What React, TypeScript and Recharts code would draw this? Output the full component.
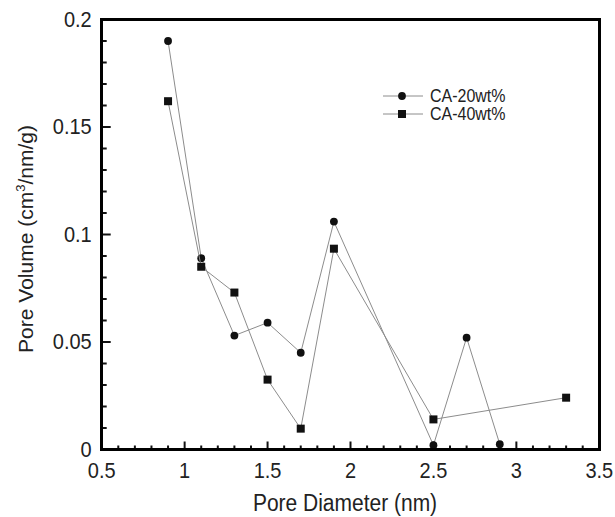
import React from 'react';
import { ScatterChart, Scatter, XAxis, YAxis } from 'recharts';

// pore size distribution
const DIAMETER_20 = [0.9, 1.1, 1.3, 1.5, 1.7, 1.9, 2.5, 2.7, 2.9];
const VOLUME_20 = [0.19, 0.089, 0.053, 0.059, 0.045, 0.106, 0.002, 0.052, 0.0025];

const DIAMETER_40 = [0.9, 1.1, 1.3, 1.5, 1.7, 1.9, 2.5, 3.3];
const VOLUME_40 = [0.162, 0.085, 0.073, 0.0325, 0.0097, 0.0934, 0.014, 0.0241];

const X_MAJOR = [0.5, 1, 1.5, 2, 2.5, 3, 3.5];
const Y_MAJOR = [0, 0.05, 0.1, 0.15, 0.2];

const X_TICKS = Array.from({ length: 31 }, (_, i) => Math.round((0.5 + i * 0.1) * 10) / 10);
const Y_TICKS = Array.from({ length: 21 }, (_, i) => i / 100);

const data20 = DIAMETER_20.map((x, i) => ({ x, y: VOLUME_20[i] }));
const data40 = DIAMETER_40.map((x, i) => ({ x, y: VOLUME_40[i] }));

const FONT = '"Liberation Sans", Arial, Helvetica, sans-serif';
const LINE_GRAY = '#8c8c8c';
const INK = '#111';

// layout
const W = 615;
const H = 517;
const MARGIN = { top: 19.5, right: 15.7, bottom: 0, left: 1.7 };
const Y_AXIS_W = 100;
const X_AXIS_H = 67.5;
const L = MARGIN.left + Y_AXIS_W;
const T = MARGIN.top;
const R = W - MARGIN.right;
const B = H - MARGIN.bottom - X_AXIS_H;
const FW = 3; // frame thickness

const XTick = (props: any) => {
  const { x, y, payload } = props;
  const v = payload.value;
  const major = X_MAJOR.includes(v);
  return (
    <g>
      <line x1={x} x2={x} y1={y} y2={y - (major ? 8 : 4)} stroke={INK} strokeWidth={2} />
      {major && (
        <text
          transform={`translate(${x},${y + 28.5}) scale(1,1.08)`}
          textAnchor="middle"
          fontSize={20}
          fontFamily={FONT}
          fill="#222"
        >
          {String(v)}
        </text>
      )}
    </g>
  );
};

const YTick = (props: any) => {
  const { x, y, payload } = props;
  const v = payload.value;
  const major = Y_MAJOR.includes(v);
  return (
    <g>
      <line x1={x} x2={x + (major ? 9 : 5)} y1={y} y2={y} stroke={INK} strokeWidth={2} />
      {major && (
        <text
          transform={`translate(${x - 10},${y + 7}) scale(1,1.08)`}
          textAnchor="end"
          fontSize={20}
          fontFamily={FONT}
          fill="#222"
        >
          {String(v)}
        </text>
      )}
    </g>
  );
};

const Dot = (props: any) => <circle cx={props.cx} cy={props.cy} r={3.9} fill={INK} />;
const Box = (props: any) => (
  <rect x={props.cx - 4} y={props.cy - 4} width={8} height={8} fill={INK} />
);

const App: React.FC = () => {
  return (
    <div style={{ position: 'absolute', left: 0, top: 0, width: W, height: H, background: '#fff' }}>
      <ScatterChart width={W} height={H} margin={MARGIN}>
        <XAxis
          type="number"
          dataKey="x"
          domain={[0.5, 3.5]}
          ticks={X_TICKS}
          interval={0}
          tickSize={0}
          tickMargin={0}
          tickLine={false}
          axisLine={false}
          tick={<XTick />}
          height={X_AXIS_H}
          allowDataOverflow
        />
        <YAxis
          type="number"
          dataKey="y"
          domain={[0, 0.2]}
          ticks={Y_TICKS}
          interval={0}
          tickSize={0}
          tickMargin={0}
          tickLine={false}
          axisLine={false}
          tick={<YTick />}
          width={Y_AXIS_W}
          allowDataOverflow
        />
        <Scatter
          name="CA-20wt%"
          data={data20}
          line={{ stroke: LINE_GRAY, strokeWidth: 1 }}
          lineType="joint"
          shape={Dot}
          isAnimationActive={false}
        />
        <Scatter
          name="CA-40wt%"
          data={data40}
          line={{ stroke: LINE_GRAY, strokeWidth: 1 }}
          lineType="joint"
          shape={Box}
          isAnimationActive={false}
        />

        {/* legend */}
        <g fontFamily={FONT} fontSize={16} fill="#222">
          <line x1={383} x2={423} y1={96} y2={96} stroke={LINE_GRAY} strokeWidth={1} />
          <circle cx={402} cy={96} r={3.9} fill={INK} />
          <text transform="translate(430,101.5) scale(1,1.1)">CA-20wt%</text>
          <line x1={383} x2={423} y1={114} y2={114} stroke={LINE_GRAY} strokeWidth={1} />
          <rect x={398} y={110} width={8} height={8} fill={INK} />
          <text transform="translate(430,120) scale(1,1.1)">CA-40wt%</text>
        </g>

        {/* axis titles */}
        <text
          transform="translate(345,511) scale(1,1.15)"
          textAnchor="middle"
          fontFamily={FONT}
          fontSize={21}
          fill="#222"
        >
          Pore Diameter (nm)
        </text>
        <text
          transform="translate(33,239) rotate(-90)"
          textAnchor="middle"
          fontFamily={FONT}
          fontSize={21}
          fill="#222"
        >
          <tspan>Pore Volume (cm</tspan>
          <tspan dy={-8} fontSize={13}>3</tspan>
          <tspan dy={8}>/nm/g)</tspan>
        </text>
      </ScatterChart>
      {/* plot frame as an HTML box laid over the plot area */}
      <div
        style={{
          position: 'absolute',
          left: L - FW / 2,
          top: T - FW / 2,
          width: R - L + FW,
          height: B - T + FW,
          boxSizing: 'border-box',
          border: `${FW}px solid #000`,
          pointerEvents: 'none',
        }}
      />
    </div>
  );
};

export default App;
